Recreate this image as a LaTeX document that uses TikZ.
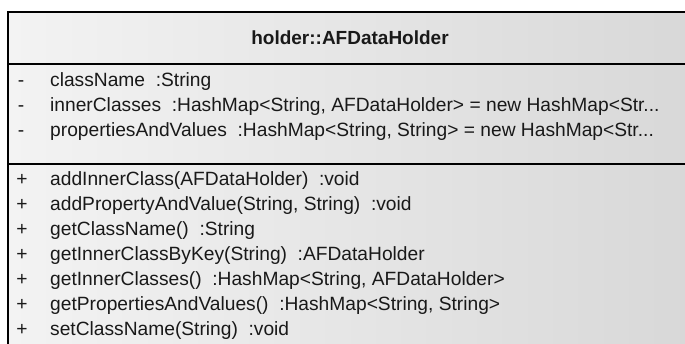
\documentclass[tikz,border=0pt]{standalone}
\usepackage{fontspec}
\setmainfont{Liberation Sans}
\definecolor{fillL}{RGB}{243,243,243}
\definecolor{fillR}{RGB}{216,216,216}
\definecolor{txt}{RGB}{25,25,25}
\tikzset{
  member/.style={anchor=mid west, inner sep=0pt, text=txt, font=\fontsize{19.2}{23}\selectfont},
  vis/.style={anchor=mid, inner sep=0pt, text=txt, font=\fontsize{19.2}{23}\selectfont},
  title/.style={anchor=center, inner sep=0pt, text=txt, font=\fontsize{19}{23}\selectfont\bfseries},
  border/.style={draw=black, line width=1.4pt}
}
\begin{document}
\begin{tikzpicture}[x=1pt,y=-1pt]
\useasboundingbox (0,0) rectangle (685,343);
\clip (0,0) rectangle (685,343);
\shade[left color=fillL, right color=fillR] (8,12) rectangle (692,360);
\draw[border] (692,12) -- (8,12) -- (8,360);
\draw[border] (8,64) -- (692,64);
\draw[border] (8,164) -- (692,164);
\node[title] (t) at (350,38) {holder::AFDataHolder};
% attributes
\node[vis] (v1) at (21,84) {-};
\node[member] (a1) at (50,84) {className\ \ :String};
\node[vis] (v2) at (21,109) {-};
\node[member] (a2) at (50,109) {innerClasses\ \ :HashMap<String, AFDataHolder> = new HashMap<Str...};
\node[vis] (v3) at (21,134) {-};
\node[member] (a3) at (50,134) {propertiesAndValues\ \ :HashMap<String, String> = new HashMap<Str...};
% operations
\node[vis] (p1) at (22,183) {+};
\node[member] (m1) at (50,183) {addInnerClass(AFDataHolder)\ \ :void};
\node[vis] (p2) at (22,208) {+};
\node[member] (m2) at (50,208) {addPropertyAndValue(String, String)\ \ :void};
\node[vis] (p3) at (22,233) {+};
\node[member] (m3) at (50,233) {getClassName()\ \ :String};
\node[vis] (p4) at (22,258) {+};
\node[member] (m4) at (50,258) {getInnerClassByKey(String)\ \ :AFDataHolder};
\node[vis] (p5) at (22,283) {+};
\node[member] (m5) at (50,283) {getInnerClasses()\ \ :HashMap<String, AFDataHolder>};
\node[vis] (p6) at (22,308) {+};
\node[member] (m6) at (50,308) {getPropertiesAndValues()\ \ :HashMap<String, String>};
\node[vis] (p7) at (22,333) {+};
\node[member] (m7) at (50,333) {setClassName(String)\ \ :void};
\end{tikzpicture}
\end{document}
